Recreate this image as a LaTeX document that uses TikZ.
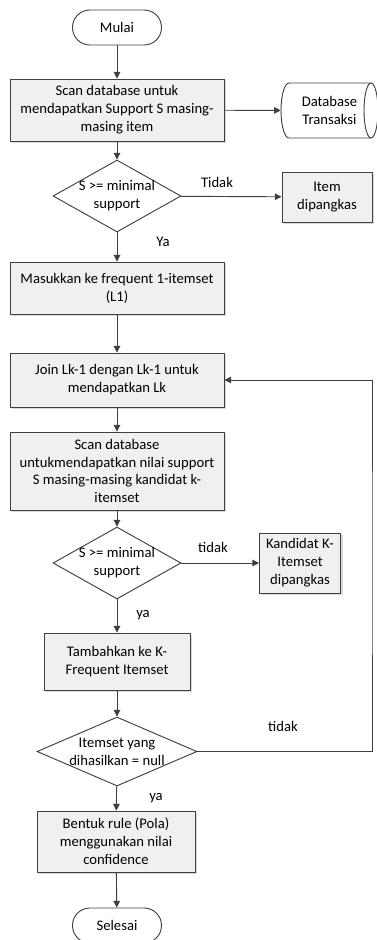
\documentclass[tikz,border=0pt]{standalone}
\usepackage{fontspec}
\setmainfont{Carlito}
\usetikzlibrary{shapes.geometric,arrows.meta,shadows}

\tikzset{
	garis/.style={draw=black!75, line width=0.7pt},
	proses/.style={garis, fill=black!6, align=center, inner sep=2pt, drop shadow={shadow xshift=1.5pt, shadow yshift=-1.5pt, fill=black!30, opacity=0.5}},
	terminal/.style={garis, fill=white, rounded corners=13pt, minimum width=66.75pt, minimum height=26.25pt},
	keputusan/.style={diamond, garis, fill=white, inner sep=0pt, minimum width=96pt, minimum height=54pt},
	panah/.style={garis, -{Triangle[length=5pt,width=5pt]}},
	ket/.style={inner sep=0pt},
}

\begin{document}
\begin{tikzpicture}[x=0.75pt, y=-0.75pt, font=\fontsize{11}{13.4}\selectfont]
			%%%%% START %%%%%
			\useasboundingbox (0,0) rectangle (377,940);
			
			\node[terminal] (mulai) at (117,27.5) {Mulai};
			\node[proses, minimum width=160.5pt, minimum height=46.5pt] (scan) at (117,110) {Scan database untuk\\mendapatkan Support S masing-\\masing item};
			
			% tabung database
			\draw[garis, fill=white] (289,83) -- (371,83) arc[start angle=90, end angle=-90, x radius=5.25pt, y radius=20.625pt] -- (289,138) arc[start angle=270, end angle=90, x radius=6pt, y radius=20.625pt] -- cycle;
			\draw[garis] (371,83) arc[start angle=90, end angle=270, x radius=5.25pt, y radius=20.625pt];
			\node[align=center, minimum width=72.75pt, minimum height=41.25pt, inner sep=0pt] (db) at (329.5,110.5) {Database\\Transaksi};
			
			\node[keputusan, label={[align=center]center:S >= minimal\\support}] (cek1) at (117,196) {};
			\node[proses, minimum width=67.5pt, minimum height=37.5pt] (pangkas1) at (327,197) {Item\\dipangkas};
			\node[proses, minimum width=160.5pt, minimum height=39pt] (l1) at (117,288) {Masukkan ke frequent 1-itemset\\(L1)};
			\node[proses, minimum width=160.5pt, minimum height=40.5pt] (join) at (117,380) {Join Lk-1 dengan Lk-1 untuk\\mendapatkan Lk};
			\node[proses, minimum width=160.5pt, minimum height=58.5pt] (scank) at (117,471) {Scan database\\untukmendapatkan nilai support\\S masing-masing kandidat k-\\itemset};
			\node[keputusan, label={[align=center]center:S >= minimal\\support}] (cek2) at (117,563) {};
			\node[proses, minimum width=60.75pt, minimum height=45pt] (pangkas2) at (300,563) {Kandidat K-\\Itemset\\dipangkas};
			\node[proses, minimum width=109.5pt, minimum height=42.75pt] (tambah) at (117,661.5) {Tambahkan ke K-\\Frequent Itemset};
			\node[keputusan, minimum width=120pt, minimum height=51.75pt, label={[align=center]center:Itemset yang\\dihasilkan = null}] (cek3) at (117,751.5) {};
			\node[proses, minimum width=118.5pt, minimum height=45.75pt] (rule) at (116,841.5) {Bentuk rule (Pola)\\menggunakan nilai\\confidence};
			\node[terminal] (selesai) at (117,925.5) {Selesai};
			
			\coordinate (balik) at (372,560);
			
			\draw[panah] (mulai) -- (scan);
			\draw[panah] (scan) -- (db);
			\draw[panah] (scan) -- (cek1);
			\draw[panah] (cek1) -- (pangkas1);
			\draw[panah] (cek1) -- (l1);
			\draw[panah] (l1) -- (join);
			\draw[panah] (join) -- (scank);
			\draw[panah] (scank) -- (cek2);
			\draw[panah] (cek2) -- (pangkas2);
			\draw[panah] (cek2) -- (tambah);
			\draw[panah] (tambah) -- (cek3);
			\draw[panah] (cek3.east) -| (balik) |- (join.east);
			\draw[panah] (cek3) -- (rule);
			\draw[panah] (rule) -- (selesai);
			
			\node[ket] (t1) at (217,182) {Tidak};
			\node[ket] (y1) at (163,242) {Ya};
			\node[ket] (t2) at (213,547) {tidak};
			\node[ket] (y2) at (143,615) {ya};
			\node[ket] (t3) at (283,726) {tidak};
			\node[ket] (y3) at (156,798) {ya};
			%%%%% END %%%%%
\end{tikzpicture}
\end{document}
